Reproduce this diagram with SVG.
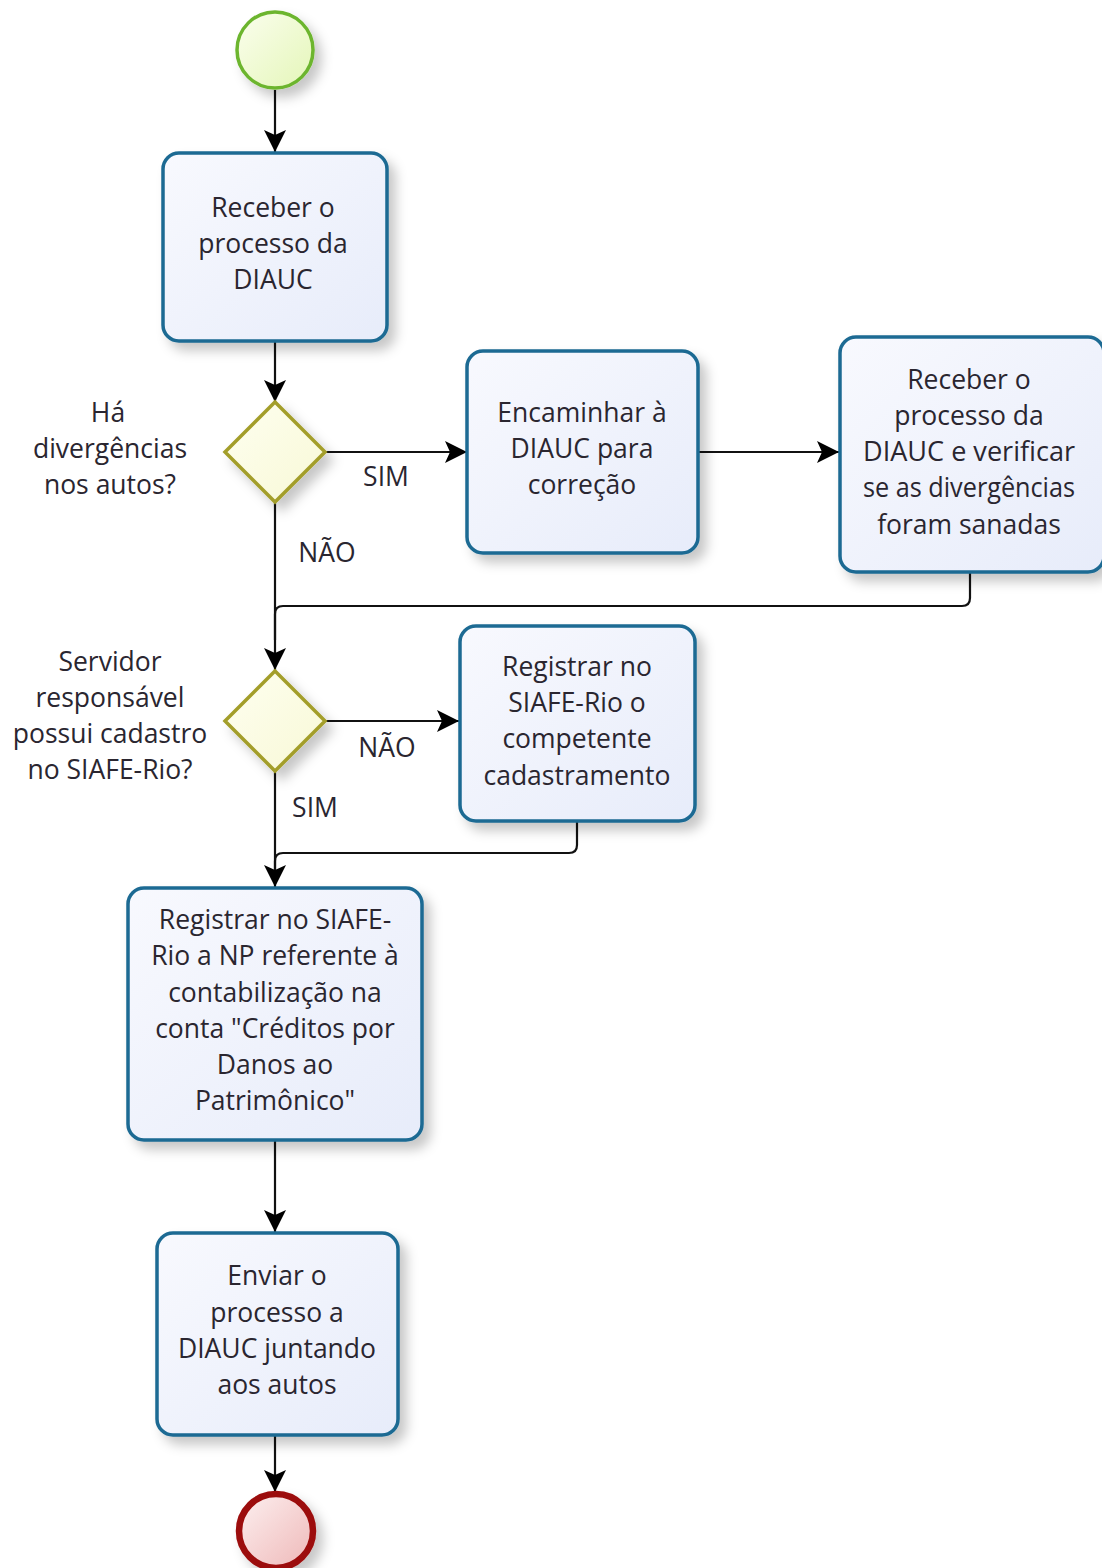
<svg xmlns="http://www.w3.org/2000/svg" width="1102" height="1568" viewBox="0 0 1102 1568">
<defs>
<style>
.task{fill:url(#gTask);stroke:#1c6a93;stroke-width:3.5}
.gw{fill:url(#gGw);stroke:#a39e2a;stroke-width:3.5}
.t{font-family:"Open Sans","Liberation Sans",sans-serif;font-size:26.5px;fill:#2a2630;text-anchor:middle}
.c{fill:none;stroke:#111;stroke-width:2.2}
</style>
<linearGradient id="gTask" x1="0" y1="0" x2="1" y2="1"><stop offset="0" stop-color="#f8f9fe"/><stop offset="1" stop-color="#e7ecfa"/></linearGradient>
<linearGradient id="gGw" x1="0" y1="0" x2="1" y2="1"><stop offset="0" stop-color="#fefff0"/><stop offset="1" stop-color="#f8f8d6"/></linearGradient>
<linearGradient id="gStart" x1="0" y1="0" x2="1" y2="1"><stop offset="0" stop-color="#fbfeee"/><stop offset="1" stop-color="#e4f6b8"/></linearGradient>
<linearGradient id="gEnd" x1="0" y1="0" x2="1" y2="1"><stop offset="0" stop-color="#fdf0f0"/><stop offset="1" stop-color="#eeb8b8"/></linearGradient>
<filter id="sh" x="-20%" y="-20%" width="150%" height="150%"><feDropShadow dx="7" dy="8" stdDeviation="6" flood-color="#000" flood-opacity="0.22"/></filter>
<marker id="arr" markerUnits="userSpaceOnUse" markerWidth="26" markerHeight="24" refX="22" refY="11" orient="auto"><path d="M0,0 L22,11 L0,22 L5,11 z" fill="#000"/></marker>
</defs>
<g id="connectors">
<path class="c" d="M275,90 V152" marker-end="url(#arr)"/>
<path class="c" d="M275,342 V402" marker-end="url(#arr)"/>
<path class="c" d="M325,452 H467" marker-end="url(#arr)"/>
<path class="c" d="M698,452 H839" marker-end="url(#arr)"/>
<path class="c" d="M275,503 V670" marker-end="url(#arr)"/>
<path class="c" d="M970,573 V598 Q970,606 962,606 H283 Q275,606 275,614 V640"/>
<path class="c" d="M326,721 H459" marker-end="url(#arr)"/>
<path class="c" d="M275,772 V887" marker-end="url(#arr)"/>
<path class="c" d="M577,821 V845 Q577,853 569,853 H283 Q275,853 275,861 V870"/>
<path class="c" d="M275,1141 V1232" marker-end="url(#arr)"/>
<path class="c" d="M275,1436 V1492" marker-end="url(#arr)"/>
<text class="t" x="386" y="486">SIM</text>
<text class="t" x="327" y="562">NÃO</text>
<text class="t" x="387" y="757">NÃO</text>
<text class="t" x="315" y="817">SIM</text>
</g>
<g id="start"><circle cx="275" cy="50" r="38" fill="url(#gStart)" stroke="#6cb52e" stroke-width="3.5" filter="url(#sh)"/></g>
<g id="task1"><rect class="task" x="163" y="153" width="224" height="188" rx="16" filter="url(#sh)"/>
<text class="t" x="273" y="217">Receber o</text><text class="t" x="273" y="253">processo da</text><text class="t" x="273" y="289">DIAUC</text></g>
<g id="gw1"><path class="gw" d="M275,402 L325,452 L275,502 L225,452 Z" filter="url(#sh)"/>
<text class="t" x="108" y="422">Há</text><text class="t" x="110" y="458">divergências</text><text class="t" x="110" y="494">nos autos?</text></g>
<g id="task2"><rect class="task" x="467" y="351" width="231" height="202" rx="16" filter="url(#sh)"/>
<text class="t" x="582" y="422">Encaminhar à</text><text class="t" x="582" y="458">DIAUC para</text><text class="t" x="582" y="494">correção</text></g>
<g id="task3"><rect class="task" x="840" y="337" width="264" height="235" rx="16" filter="url(#sh)"/>
<text class="t" x="969" y="389">Receber o</text><text class="t" x="969" y="425">processo da</text><text class="t" x="969" y="461" textLength="212" lengthAdjust="spacingAndGlyphs">DIAUC e verificar</text><text class="t" x="969" y="497" textLength="212" lengthAdjust="spacingAndGlyphs">se as divergências</text><text class="t" x="969" y="534">foram sanadas</text></g>
<g id="gw2"><path class="gw" d="M275,671 L325,721 L275,771 L225,721 Z" filter="url(#sh)"/>
<text class="t" x="110" y="671">Servidor</text><text class="t" x="110" y="707">responsável</text><text class="t" x="110" y="743">possui cadastro</text><text class="t" x="110" y="779">no SIAFE-Rio?</text></g>
<g id="task4"><rect class="task" x="460" y="626" width="235" height="195" rx="16" filter="url(#sh)"/>
<text class="t" x="577" y="676">Registrar no</text><text class="t" x="577" y="712">SIAFE-Rio o</text><text class="t" x="577" y="748">competente</text><text class="t" x="577" y="785">cadastramento</text></g>
<g id="task5"><rect class="task" x="128" y="888" width="294" height="252" rx="16" filter="url(#sh)"/>
<text class="t" x="275" y="929">Registrar no SIAFE-</text><text class="t" x="275" y="965">Rio a NP referente à</text><text class="t" x="275" y="1002">contabilização na</text><text class="t" x="275" y="1038">conta "Créditos por</text><text class="t" x="275" y="1074">Danos ao</text><text class="t" x="275" y="1110">Patrimônico"</text></g>
<g id="task6"><rect class="task" x="157" y="1233" width="241" height="202" rx="16" filter="url(#sh)"/>
<text class="t" x="277" y="1285">Enviar o</text><text class="t" x="277" y="1322">processo a</text><text class="t" x="277" y="1358">DIAUC juntando</text><text class="t" x="277" y="1394">aos autos</text></g>
<g id="end"><circle cx="276" cy="1531" r="37" fill="url(#gEnd)" stroke="#9c0a0a" stroke-width="6.5" filter="url(#sh)"/></g>
</svg>
